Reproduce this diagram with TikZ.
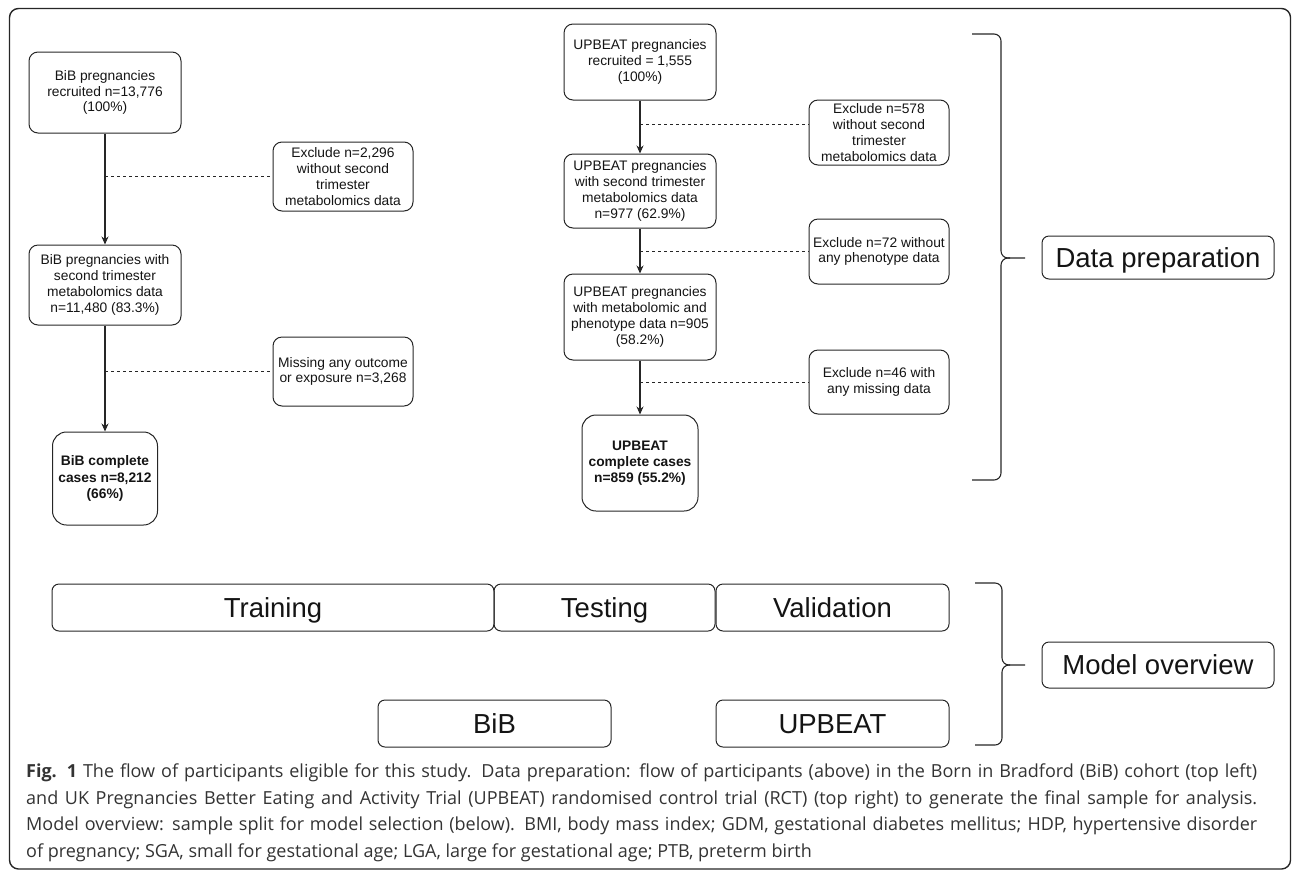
\documentclass[tikz,border=0pt]{standalone}
\usepackage{fontspec}
\setmainfont{Liberation Sans}
\newfontfamily\captionfont{Open Sans}
\usepackage{tikz}
\usetikzlibrary{arrows.meta}
\definecolor{linegray}{HTML}{262626}
\definecolor{textgray}{HTML}{141414}
\definecolor{captiongray}{HTML}{333333}

\begin{document}
\begin{tikzpicture}[x=1pt,y=-1pt,
		flow_style/.style={draw=linegray,line width=1pt,rounded corners=9pt,align=center,inner sep=0pt,text=textgray,font=\fontsize{13.8}{15.8}\selectfont},
		done_style/.style={flow_style,rounded corners=14pt,font=\fontsize{13.8}{16.2}\selectfont\bfseries},
		excl_style/.style={flow_style,rounded corners=9pt},
		split_style/.style={draw=linegray,line width=1pt,rounded corners=7pt,inner sep=0pt,minimum height=47,text height=19.7pt,text depth=0pt,text=textgray,font=\fontsize{27.5}{30}\selectfont},
		label_style/.style={split_style,minimum width=232},
		edge_style/.style={draw=linegray,line width=1.1pt,-{Stealth[length=8pt,width=7pt]}},
		dash_style/.style={draw=linegray,line width=0.8pt,dash pattern=on 3pt off 3pt},
		brace_style/.style={draw=linegray,line width=1.1pt,rounded corners=7pt},
		caption_style/.style={anchor=north west,inner sep=0pt,align=left,text=captiongray,font=\captionfont\fontsize{18}{26.5}\selectfont}]

		\useasboundingbox (0,0) rectangle (1292,871);
		\draw[linegray,line width=1.4pt,rounded corners=9pt] (9.5,8.5) rectangle (1290.5,869);

		% BiB cohort
		\node[flow_style,minimum width=152,minimum height=81] (bib1) at (105,92.5) {BiB pregnancies\\recruited n=13,776\\(100\%)};
		\node[excl_style,minimum width=140,minimum height=69] (ex1) at (343,176.5) {Exclude n=2,296\\without second\\trimester\\metabolomics data};
		\node[flow_style,minimum width=152,minimum height=80] (bib2) at (105,285) {BiB pregnancies with\\second trimester\\metabolomics data\\n=11,480 (83.3\%)};
		\node[excl_style,minimum width=140,minimum height=69] (ex2) at (343,371.5) {Missing any outcome\\or exposure n=3,268};
		\node[done_style,minimum width=105,minimum height=93] (bib3) at (105,478.5) {BiB complete\\cases n=8,212\\(66\%)};

		% UPBEAT trial
		\node[flow_style,minimum width=152,minimum height=76] (up1) at (640,62) {UPBEAT pregnancies\\recruited = 1,555\\(100\%)};
		\node[excl_style,minimum width=140,minimum height=65] (ex3) at (879,132.5) {Exclude n=578\\without second\\trimester\\metabolomics data};
		\node[flow_style,minimum width=152,minimum height=74] (up2) at (640,191) {UPBEAT pregnancies\\with second trimester\\metabolomics data\\n=977 (62.9\%)};
		\node[excl_style,minimum width=140,minimum height=65] (ex4) at (879,251.5) {Exclude n=72 without\\any phenotype data};
		\node[flow_style,minimum width=152,minimum height=86] (up3) at (640,317) {UPBEAT pregnancies\\with metabolomic and\\phenotype data n=905\\(58.2\%)};
		\node[excl_style,minimum width=140,minimum height=64] (ex5) at (879,382) {Exclude n=46 with\\any missing data};
		\node[done_style,minimum width=116,minimum height=96] (up4) at (640,463) {UPBEAT\\complete cases\\n=859 (55.2\%)};

		\draw[edge_style] (bib1) -- (bib2);
		\draw[edge_style] (bib2) -- (bib3);
		\draw[edge_style] (up1) -- (up2);
		\draw[edge_style] (up2) -- (up3);
		\draw[edge_style] (up3) -- (up4);

		\coordinate (d3) at ([yshift=8.5pt]ex3.west);
		\draw[dash_style] (bib1.south |- ex1.west) -- (ex1.west);
		\draw[dash_style] (bib2.south |- ex2.west) -- (ex2.west);
		\draw[dash_style] (up1.south |- d3) -- (d3);
		\draw[dash_style] (up2.south |- ex4.west) -- (ex4.west);
		\draw[dash_style] (up3.south |- ex5.west) -- (ex5.west);

		% model split
		\node[split_style,minimum width=442] (train) at (273,607.5) {Training};
		\node[split_style,minimum width=221] (test) at (604.5,607.5) {Testing};
		\node[split_style,minimum width=233] (valid) at (832.5,607.5) {Validation};
		\node[split_style,minimum width=233] (bib) at (494.5,723.5) {BiB};
		\node[split_style,minimum width=233] (upbeat) at (832.5,723.5) {UPBEAT};

		% braces
		\draw[brace_style] (972,34) -| (1001,258) -- (1025,258);
		\draw[brace_style] (972,480) -| (1001,258) -- (1010,258);
		\draw[brace_style] (975,583) -| (1002,665) -- (1025,665);
		\draw[brace_style] (975,745) -| (1002,665) -- (1010,665);

		\node[label_style,minimum height=43] (prep) at (1158,257.5) {Data preparation};
		\node[label_style,minimum height=46] (overview) at (1158,665) {Model overview};

		\node[caption_style] (caption) at (26,764) {%
			\hbox to 1231pt{\textbf{Fig. 1} The flow of participants eligible for this study. Data preparation: flow of participants (above) in the Born in Bradford (BiB) cohort (top left)}\\
			\hbox to 1231pt{and UK Pregnancies Better Eating and Activity Trial (UPBEAT) randomised control trial (RCT) (top right) to generate the final sample for analysis.}\\
			\hbox to 1231pt{Model overview: sample split for model selection (below). BMI, body mass index; GDM, gestational diabetes mellitus; HDP, hypertensive disorder}\\
			of pregnancy; SGA, small for gestational age; LGA, large for gestational age; PTB, preterm birth};

\end{tikzpicture}
\end{document}
